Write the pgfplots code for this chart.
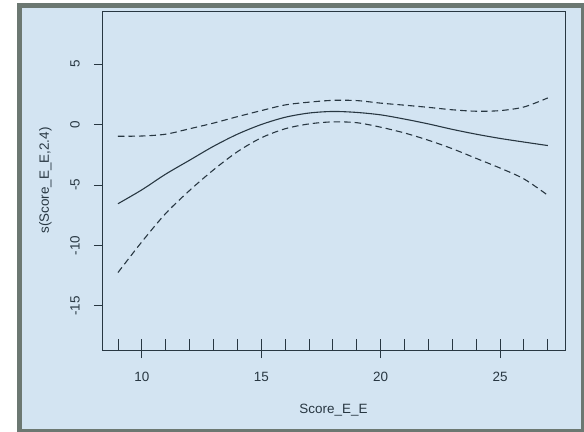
\documentclass[border=0pt]{standalone}
\usepackage{pgfplots}
\pgfplotsset{compat=1.18}
\usepackage{fontspec}
\setmainfont{Liberation Sans}
\definecolor{bgblue}{RGB}{211,228,242}
\definecolor{framegray}{RGB}{108,120,114}
\definecolor{ink}{RGB}{40,55,66}
\begin{document}
\begin{tikzpicture}
\useasboundingbox (-102bp,-82bp) rectangle (482bp,350bp);
\fill[white] (-102bp,-82bp) rectangle (482bp,350bp);
\fill[framegray] (-85bp,347bp) rectangle (490bp,-90bp);
\fill[bgblue] (-80bp,342bp) rectangle (479bp,-79bp);
\begin{axis}[
  scale only axis,
  width=463bp, height=339bp,
  xmin=8.33, xmax=27.72,
  ymin=-18.65, ymax=9.39,
  axis line style={draw=ink, line width=0.9pt},
  xtick={10,15,20,25},
  ytick={-15,-10,-5,0,5},
  xtick pos=bottom, ytick pos=left,
  tick align=outside,
  major tick length=8bp,
  tick style={ink, line width=0.9pt},
  every tick label/.append style={font=\fontsize{13.5}{15}\selectfont, text=ink},
  /pgf/number format/assume math mode=true,
  yticklabel style={rotate=90, anchor=south, inner sep=0pt},
  xticklabel style={anchor=north, inner sep=0pt},
  xticklabel shift=14bp,
  yticklabel shift=14bp,
  xlabel={Score\_E\_E},
  ylabel={s(Score\_E\_E,2.4)},
  every axis x label/.style={at={(axis description cs:0.5,-0.177)}, anchor=center, font=\fontsize{13.5}{15}\selectfont, text=ink},
  every axis y label/.style={at={(axis description cs:-0.122,0.5)}, anchor=center, rotate=90, font=\fontsize{13.5}{15}\selectfont, text=ink},
  clip=false,
]
\addplot[ink, line width=1.1pt, smooth] coordinates {
(9,-6.55) (10,-5.4) (11,-4.1) (12,-2.95) (13,-1.8) (14,-0.8) (15,0.0) (16,0.6) (17,0.95) (18,1.08) (19,1.0) (20,0.8) (21,0.45) (22,0.05) (23,-0.4) (24,-0.8) (25,-1.15) (26,-1.45) (27,-1.74)
};
\addplot[ink, line width=1.1pt, smooth, dash pattern=on 6.5bp off 4bp] coordinates {
(9,-0.97) (10,-0.95) (11,-0.8) (12,-0.35) (13,0.12) (14,0.65) (15,1.15) (16,1.62) (17,1.85) (18,2.0) (19,1.98) (20,1.77) (21,1.6) (22,1.42) (23,1.22) (24,1.1) (25,1.15) (26,1.45) (27,2.2)
};
\addplot[ink, line width=1.1pt, smooth, dash pattern=on 6.5bp off 4bp] coordinates {
(9,-12.24) (10,-9.7) (11,-7.35) (12,-5.45) (13,-3.75) (14,-2.25) (15,-1.1) (16,-0.35) (17,0.05) (18,0.22) (19,0.15) (20,-0.22) (21,-0.7) (22,-1.3) (23,-2.0) (24,-2.8) (25,-3.6) (26,-4.5) (27,-5.85)
};
\addplot[only marks, mark=|, mark size=5.3bp, mark options={ink, line width=0.9pt, yshift=5.3bp}] coordinates {
(9,-18.65) (10,-18.65) (11,-18.65) (12,-18.65) (13,-18.65) (14,-18.65) (15,-18.65) (16,-18.65) (17,-18.65) (18,-18.65) (19,-18.65) (20,-18.65) (21,-18.65) (22,-18.65) (23,-18.65) (24,-18.65) (25,-18.65) (26,-18.65) (27,-18.65)
};
\draw[ink, line width=0.9pt] (rel axis cs:0,0) rectangle (rel axis cs:1,1);
\end{axis}
\end{tikzpicture}
\end{document}
